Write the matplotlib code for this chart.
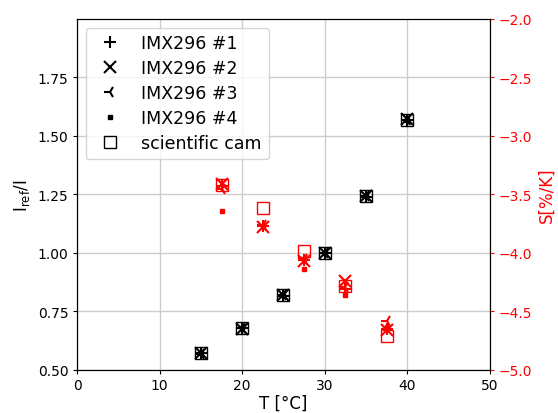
import matplotlib
matplotlib.use("Agg")
import matplotlib.pyplot as plt
import numpy as np

# temperatures of the reference measurements and of the slope estimates
T = [15, 20, 25, 30, 35, 40]
T_mid = [17.5, 22.5, 27.5, 32.5, 37.5]

labels = ["IMX296 #1", "IMX296 #2", "IMX296 #3", "IMX296 #4", "scientific cam"]
markers = ["+", "x", "3", "s", "s"]
sizes = [9, 9, 9, 3.5, 8]

# normalised intensity I_ref/I (reference at 30 °C)
ratio = [
    [0.571, 0.678, 0.815, 1.0, 1.240, 1.566],
    [0.573, 0.676, 0.820, 1.0, 1.243, 1.570],
    [0.570, 0.680, 0.818, 1.0, 1.241, 1.568],
    [0.572, 0.679, 0.821, 1.0, 1.242, 1.569],
    [0.572, 0.679, 0.820, 1.0, 1.242, 1.568],
]

# temperature coefficient S in %/K
slope = [
    [-3.43, -3.77, -4.06, -4.31, -4.65],
    [-3.41, -3.78, -4.07, -4.24, -4.66],
    [-3.45, -3.76, -4.05, -4.29, -4.58],
    [-3.64, -3.77, -4.14, -4.36, -4.63],
    [-3.42, -3.62, -3.98, -4.28, -4.71],
]

fig = plt.figure(figsize=(5.58, 4.14), dpi=100)
ax = fig.add_axes([0.138, 0.104, 0.740, 0.848])
ax2 = ax.twinx()

for lab, m, ms, y in zip(labels, markers, sizes, ratio):
    mfc = "none" if lab == "scientific cam" else "black"
    ax.plot(T, y, linestyle="none", marker=m, markersize=ms, color="black",
            markerfacecolor=mfc, markeredgewidth=1.5 if m != "s" else 1.0,
            label=lab)

for lab, m, ms, s in zip(labels, markers, sizes, slope):
    mfc = "none" if lab == "scientific cam" else "red"
    ax2.plot(T_mid, s, linestyle="none", marker=m, markersize=ms, color="red",
             markerfacecolor=mfc, markeredgewidth=1.5 if m != "s" else 1.0)

ax.set_xlim(0, 50)
ax.set_ylim(0.5, 1.999)
ax.set_yticks(np.arange(0.5, 1.8, 0.25))
ax.set_xlabel("T [°C]", fontsize=12, labelpad=1)
ax.set_ylabel(r"$\mathrm{I_{ref}/I}$", fontsize=12)
ax.grid(True, color="#cccccc", linewidth=1)
ax.set_axisbelow(True)
ax.tick_params(labelsize=10, length=3, pad=3)

ax2.set_ylim(-5.0, -2.0)
ax2.set_ylabel("S[%/K]", color="red", fontsize=12)
ax2.tick_params(axis="y", colors="red", labelsize=10, length=3, pad=3)

ax.legend(loc="upper left", fontsize=12.5, handletextpad=0.8, labelspacing=0.4)

fig.savefig("out.png", dpi=100)
